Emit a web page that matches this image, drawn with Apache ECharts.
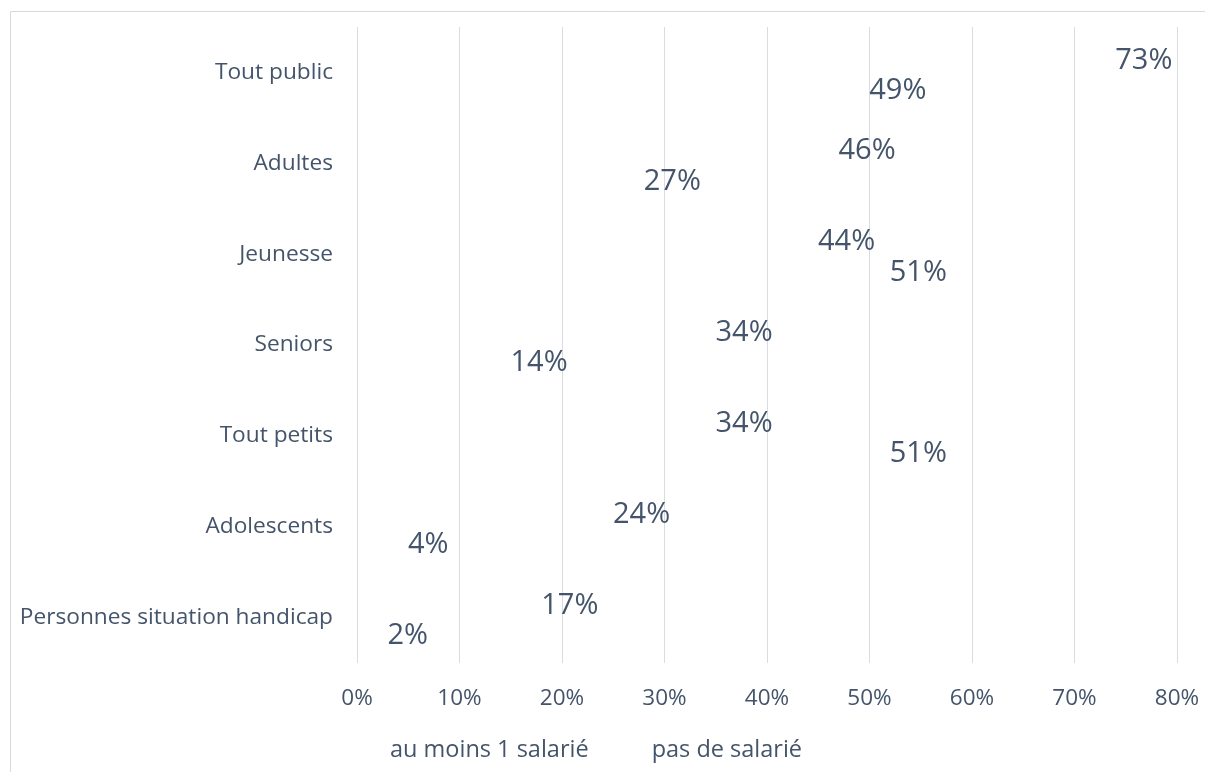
<!DOCTYPE html>
<html>
<head>
<meta charset="utf-8">
<script src="https://cdn.jsdelivr.net/npm/echarts@6/dist/echarts.min.js"></script>
<style>
  html, body { margin: 0; padding: 0; background: #fff; }
  #chart-container { width: 1205px; height: 772px; }
</style>
</head>
<body>
<div id="chart-container"></div>
<script>
var categories = ['Tout public', 'Adultes', 'Jeunesse', 'Seniors', 'Tout petits', 'Adolescents', 'Personnes situation handicap'];
var auMoinsUnSalarie = [49, 27, 51, 14, 51, 4, 2];
var pasDeSalarie = [73, 46, 44, 34, 34, 24, 17];
var seriesNames = ['au moins 1 salarié', 'pas de salarié'];

var dom = document.getElementById('chart-container');
var myChart = echarts.init(dom, null, { renderer: 'canvas' });
var textColor = '#44546a';
var fontFamily = 'Open Sans';

var labelStyle = {
  show: true,
  position: 'right',
  distance: 10,
  offset: [0, 3],
  formatter: '{c}%',
  color: textColor,
  fontFamily: fontFamily,
  fontSize: 29
};

var option = {
  animation: false,
  graphic: [{
    type: 'rect',
    shape: { x: 10.5, y: 11.5, width: 1230, height: 800 },
    style: { fill: 'none', stroke: '#d9d9d9', lineWidth: 1 },
    silent: true
  }],
  legend: {
    data: seriesNames,
    bottom: 5,
    left: 366,
    itemGap: 44,
    itemWidth: 14,
    itemHeight: 14,
    icon: 'rect',
    itemStyle: { opacity: 0 },
    textStyle: { color: textColor, fontFamily: fontFamily, fontSize: 23.5 }
  },
  grid: { left: 357, right: 28, top: 27, bottom: 109 },
  xAxis: {
    type: 'value',
    min: 0,
    max: 80,
    interval: 10,
    axisLine: { show: false },
    axisTick: { show: false },
    axisLabel: {
      formatter: '{value}%',
      color: textColor,
      fontFamily: fontFamily,
      fontSize: 22.5,
      margin: 24
    },
    splitLine: { lineStyle: { color: '#d9dce3', width: 1 } }
  },
  yAxis: {
    type: 'category',
    data: categories,
    inverse: true,
    axisLine: { show: false },
    axisTick: { show: false },
    axisLabel: {
      color: textColor,
      fontFamily: fontFamily,
      fontSize: 22.7,
      margin: 24
    }
  },
  series: [
    {
      name: seriesNames[1],
      type: 'bar',
      data: pasDeSalarie,
      barWidth: 28,
      barGap: '8%',
      itemStyle: { color: 'rgba(0,0,0,0)' },
      label: labelStyle
    },
    {
      name: seriesNames[0],
      type: 'bar',
      data: auMoinsUnSalarie,
      barWidth: 28,
      itemStyle: { color: 'rgba(0,0,0,0)' },
      label: labelStyle
    }
  ]
};

myChart.setOption(option);
window.addEventListener('resize', myChart.resize);
</script>
</body>
</html>
